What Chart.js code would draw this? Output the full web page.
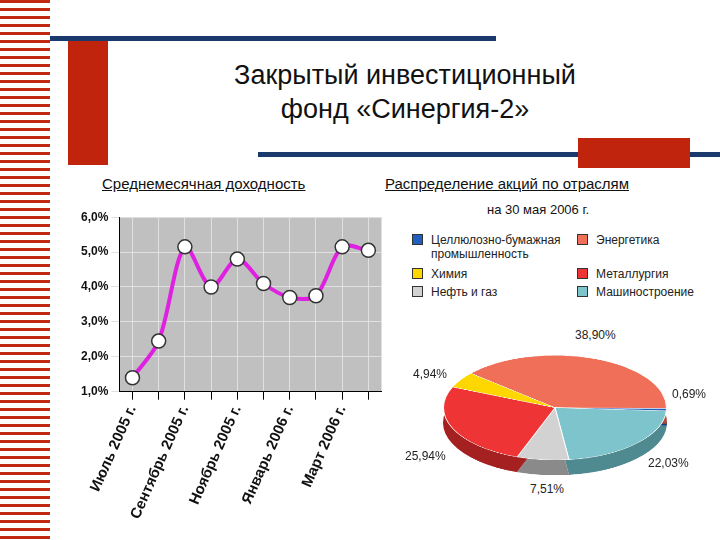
<!DOCTYPE html>
<html><head><meta charset="utf-8">
<script src="https://cdn.jsdelivr.net/npm/chart.js@4"></script>
<style>
body{margin:0;width:720px;height:540px;position:relative;background:#fff;font-family:"Liberation Sans",Arial,sans-serif;overflow:hidden}
.abs{position:absolute}
#stripes{left:0;top:0;width:50px;height:540px;background:repeating-linear-gradient(#c0280f 0 3px,#fff 3px 8px)}
.t{font-size:12px;color:#222}
</style></head><body>
<div id="stripes" class="abs"></div>
<div class="abs" style="left:50px;top:36px;width:446px;height:5px;background:#1a3a6e"></div>
<div class="abs" style="left:68px;top:41px;width:40px;height:124px;background:#c0240c"></div>
<div class="abs" style="left:258px;top:152px;width:462px;height:5px;background:#1a3a6e"></div>
<div class="abs" style="left:578px;top:138px;width:112px;height:30px;background:#c0240c"></div>
<div class="abs" style="left:160px;top:58px;width:490px;text-align:center;font-size:27px;line-height:34px;color:#111">Закрытый инвестиционный<br>фонд «Синергия-2»</div>
<div class="abs" style="left:102px;top:175px;font-size:15px;text-decoration:underline;color:#111">Среднемесячная доходность</div>
<div class="abs" style="left:385px;top:175px;font-size:15px;text-decoration:underline;color:#111">Распределение акций по отраслям</div>
<div class="abs" style="left:487px;top:202px;font-size:13px;color:#111">на 30 мая 2006 г.</div>
<div class="abs" style="left:78px;top:207px;width:312px;height:318px"><canvas id="line"></canvas></div>
<div id="legend" class="abs" style="left:412px;top:233px;width:300px;font-size:12px"></div>
<div class="abs" style="left:443px;top:370px;width:224px;height:224px;transform:scaleY(0.47);transform-origin:0 0"><canvas id="pieBack"></canvas></div>
<div class="abs" style="left:443px;top:355px;width:224px;height:224px;transform:scaleY(0.47);transform-origin:0 0"><canvas id="pie"></canvas></div>
<div id="plabels"></div>
<script>
const months = ['Июль 2005 г.','','Сентябрь 2005 г.','','Ноябрь 2005 г.','','Январь 2006 г.','','Март 2006 г.',''];
const returns = [1.4,2.45,5.15,4.0,4.8,4.1,3.7,3.75,5.15,5.05];
const yTicks = [1,2,3,4,5,6];

const sectors = ['Энергетика','Целлюлозно-бумажная промышленность','Машиностроение','Нефть и газ','Металлургия','Химия'];
const shares = [38.90,0.69,22.03,7.51,25.94,4.94];
const shareLabels = ['38,90%','0,69%','22,03%','7,51%','25,94%','4,94%'];
const colors = ['#ef6f58','#1f5fbf','#7ec4cc','#d2d2d2','#ee3434','#ffd700'];
const darkColors = ['#b04a38','#143f80','#4e8a90','#8a8a8a','#a52020','#b09400'];
const legendOrder = [1,0,5,4,3,2];

const bg = {id:'bg',beforeDraw(c){const a=c.chartArea,x=c.ctx;x.save();x.fillStyle='#c0c0c0';x.fillRect(a.left,a.top,a.right-a.left,a.bottom-a.top);x.restore();}};
new Chart(document.getElementById('line'),{
  type:'line',
  plugins:[bg],
  data:{labels:months,datasets:[{data:returns,borderColor:'#e020e0',borderWidth:4,tension:0.3,
    pointRadius:7,pointBackgroundColor:'#fff',pointBorderColor:'#333',pointBorderWidth:1.5}]},
  options:{responsive:true,maintainAspectRatio:false,animation:false,
    layout:{padding:{right:6}},
    plugins:{legend:{display:false},tooltip:{enabled:false}},
    scales:{
      x:{offset:true,grid:{color:'#e0e0e0',tickColor:'#000'},border:{color:'#000'},
        ticks:{autoSkip:false,minRotation:66,maxRotation:66,color:'#111',font:{size:15,weight:'bold',family:'Liberation Sans'}}},
      y:{min:1,max:6,afterBuildTicks(s){s.ticks=yTicks.map(v=>({value:v}));},
        grid:{color:'#e0e0e0'},border:{color:'#000'},
        ticks:{color:'#111',font:{size:12,weight:'bold',family:'Liberation Sans'},callback:v=>v.toFixed(1).replace('.',',')+'%'}}
    }}
});

const pieOpts={responsive:true,maintainAspectRatio:true,animation:false,rotation:-49,
  plugins:{legend:{display:false},tooltip:{enabled:false}}};
new Chart(document.getElementById('pieBack'),{type:'pie',
  data:{labels:sectors,datasets:[{data:shares,backgroundColor:darkColors,borderWidth:0}]},options:pieOpts});
new Chart(document.getElementById('pie'),{type:'pie',
  data:{labels:sectors,datasets:[{data:shares,backgroundColor:colors,borderColor:'#fff',borderWidth:1}]},options:pieOpts});

const lg=document.getElementById('legend');
legendOrder.forEach((i,k)=>{
  const col=k%2, row=Math.floor(k/2);
  const top=[0,34,52][row];
  const d=document.createElement('div');d.className='abs t';
  d.style.left=(col?165:0)+'px';d.style.top=top+'px';d.style.width=col?'130px':'160px';
  const name=i===1?sectors[i].replace(' ','<br><span style="margin-left:19px"></span>'):sectors[i];
  d.innerHTML='<span style="display:inline-block;width:9px;height:9px;border:1px solid #333;background:'+colors[i]+';margin-right:8px;vertical-align:-1px"></span>'+name;
  lg.appendChild(d);
});
const lp=[[575,328],[672,387],[648,456],[530,482],[405,449],[413,367]];
const pl=document.getElementById('plabels');
shareLabels.forEach((s,i)=>{const d=document.createElement('div');d.className='abs t';d.style.left=lp[i][0]+'px';d.style.top=lp[i][1]+'px';d.textContent=s;pl.appendChild(d);});
</script>
</body></html>
